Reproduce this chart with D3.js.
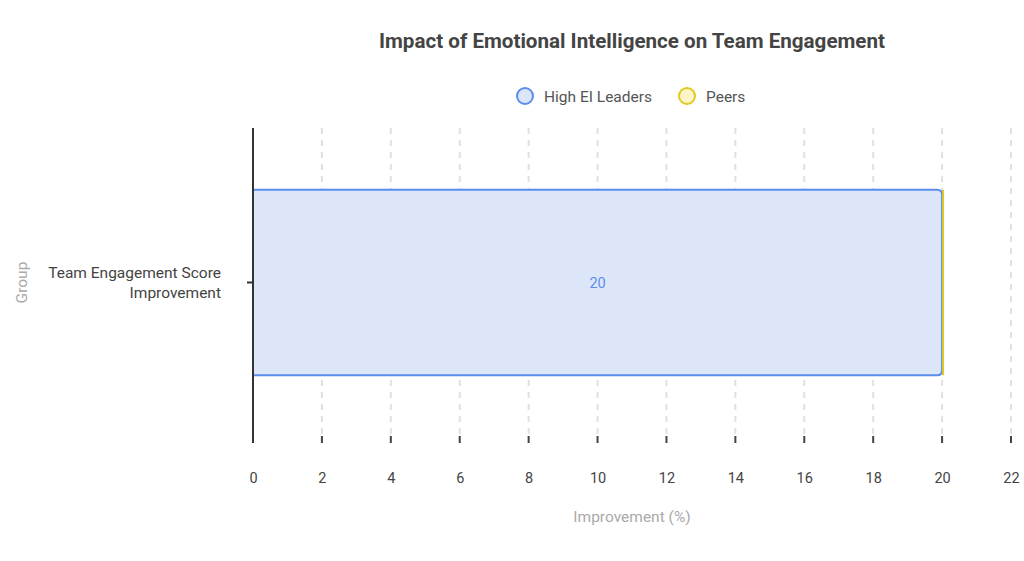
<!DOCTYPE html>
<html><head><meta charset="utf-8">
<script src="https://cdn.jsdelivr.net/npm/d3@7"></script>
<style>body{margin:0;background:#fff;font-family:Roboto,"Open Sans",sans-serif;}</style>
</head><body><svg id="c" width="1024" height="561"></svg>
<script>
const categories = ["Team Engagement Score Improvement"];
const seriesNames = ["High EI Leaders", "Peers"];
const highEI = [20];
const peers = [0];
const xTicks = [0,2,4,6,8,10,12,14,16,18,20,22];
const colors = {fill:["#dce6f8","#fbf5c8"], stroke:["#5b8def","#e2c820"]};

const svg = d3.select("#c");
const m = {l:253, r:1011, t:128, b:443};
const x = d3.scaleLinear().domain([0,22]).range([m.l, m.r]);
const y = d3.scaleBand().domain(categories).range([m.t, 437]).paddingInner(0.4).paddingOuter(0.2);

svg.append("text").attr("x",632).attr("y",48).attr("text-anchor","middle")
  .attr("font-size",20.6).attr("font-weight","bold").attr("fill","#444")
  .text("Impact of Emotional Intelligence on Team Engagement");

// legend
const lg = svg.append("g");
const lx = [525, 687];
seriesNames.forEach((n,i)=>{
  lg.append("circle").attr("cx",lx[i]).attr("cy",96).attr("r",8)
    .attr("fill",colors.fill[i]).attr("stroke",colors.stroke[i]).attr("stroke-width",2);
  lg.append("text").attr("x",lx[i]+19).attr("y",101.5).attr("font-size",15.5).attr("fill","#555")
    .text(n);
});

// grid
svg.append("g").selectAll("line").data(xTicks.slice(1)).join("line")
  .attr("x1",d=>x(d)).attr("x2",d=>x(d)).attr("y1",m.t).attr("y2",m.b-8)
  .attr("stroke","#e0e0e0").attr("stroke-width",2).attr("stroke-dasharray","6,6");

// x axis
const xa = svg.append("g").attr("transform",`translate(0,${m.b})`)
  .call(d3.axisBottom(x).tickValues(xTicks).tickSize(0).tickPadding(30));
xa.select(".domain").remove();
xa.selectAll("text").attr("font-size",14.5).attr("fill","#444").attr("font-family","Roboto");
svg.append("g").selectAll("line").data(xTicks.slice(1)).join("line")
  .attr("x1",d=>x(d)).attr("x2",d=>x(d)).attr("y1",m.b-7).attr("y2",m.b)
  .attr("stroke","#444").attr("stroke-width",2);

// bars
const c = categories[0];
const by = y(c), bh = y.bandwidth();
const r = 5;
const x0 = x(0), x1 = x(highEI[0]);
const path = `M${x0},${by} H${x1-r} Q${x1},${by} ${x1},${by+r} V${by+bh-r} Q${x1},${by+bh} ${x1-r},${by+bh} H${x0} Z`;
svg.append("path").attr("d",path).attr("fill",colors.fill[0]).attr("stroke",colors.stroke[0]).attr("stroke-width",2);
// peers stacked
svg.append("rect").attr("x",x(highEI[0])).attr("y",by).attr("width",x(highEI[0]+peers[0])-x(highEI[0])).attr("height",bh)
  .attr("fill",colors.fill[1]);
svg.append("line").attr("x1",x(highEI[0]+peers[0])+1).attr("x2",x(highEI[0]+peers[0])+1).attr("y1",by).attr("y2",by+bh)
  .attr("stroke",colors.stroke[1]).attr("stroke-width",2);
svg.append("text").attr("x",(x0+x1)/2).attr("y",by+bh/2+5).attr("text-anchor","middle")
  .attr("font-size",14.5).attr("fill","#5b8def").text(highEI[0]);

// y axis
svg.append("line").attr("x1",m.l).attr("x2",m.l).attr("y1",m.t).attr("y2",m.b).attr("stroke","#333").attr("stroke-width",2);
svg.append("line").attr("x1",m.l-6).attr("x2",m.l).attr("y1",by+bh/2).attr("y2",by+bh/2).attr("stroke","#333").attr("stroke-width",2);
const yl = svg.append("text").attr("text-anchor","end").attr("font-size",15.5).attr("fill","#444");
yl.append("tspan").attr("x",221).attr("y",by+bh/2-4.5).text("Team Engagement Score");
yl.append("tspan").attr("x",221).attr("y",by+bh/2+15.5).text("Improvement");

svg.append("text").attr("transform",`translate(27,${by+bh/2}) rotate(-90)`).attr("text-anchor","middle")
  .attr("font-size",15.5).attr("fill","#aaa").text("Group");
svg.append("text").attr("x",632).attr("y",522).attr("text-anchor","middle")
  .attr("font-size",15.5).attr("fill","#aaa").text("Improvement (%)");
</script></body></html>
